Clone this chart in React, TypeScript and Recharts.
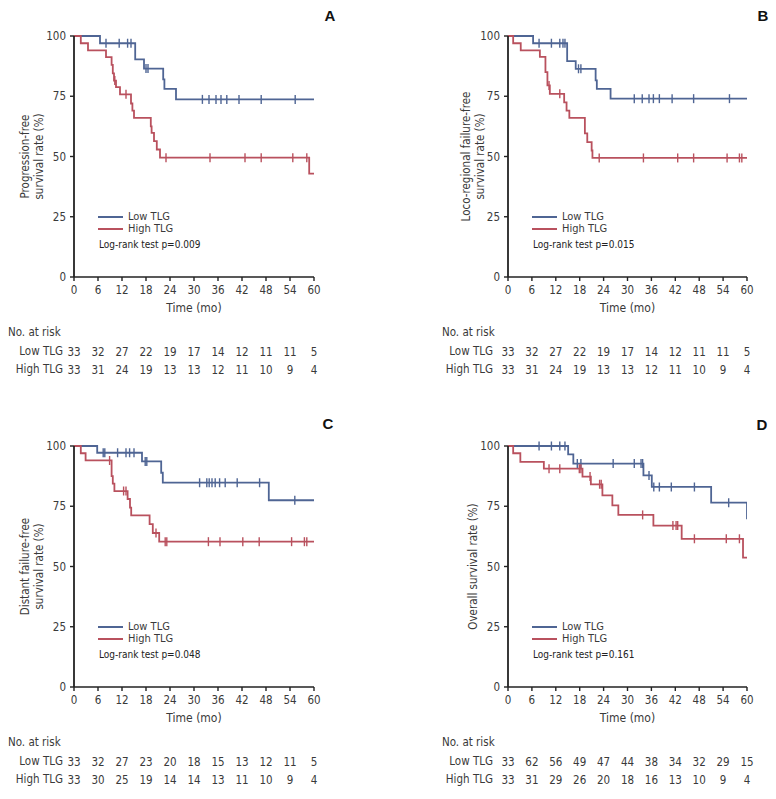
import React from 'react';
import { LineChart, Line, XAxis, YAxis } from 'recharts';

const FONT = "'Liberation Sans Narrow', 'DejaVu Sans Condensed', 'Roboto', sans-serif";
const BLUE = '#4f6594';
const RED = '#b9515e';
const TXT = '#3a3a3a';

const timeTicks = [0, 6, 12, 18, 24, 30, 36, 42, 48, 54, 60];
const survTicks = [0, 25, 50, 75, 100];

// Panel A – progression-free
const aLowSteps = [[0, 100], [6.5, 97], [15.3, 90.3], [17.5, 86.5], [22.3, 82], [22.6, 78.1], [25.5, 73.7]];
const aLowCensor = [8, 11.3, 13.4, 14.25, 18, 18.5, 32.1, 33.75, 35.5, 36.75, 38.2, 41.25, 46.8, 55.3];
const aHighSteps = [[0, 100], [1.7, 97], [3.5, 94], [8, 91.2], [9.4, 88], [9.7, 84.5], [10, 81.5], [10.5, 78.8], [11.5, 75.8], [14.25, 72], [14.6, 69], [15, 66], [19.2, 62.5], [19.4, 59.8], [20, 56.4], [20.7, 52.9], [21.5, 49.5], [58.8, 42.9]];
const aHighCensor = [10.2, 13, 23, 34, 42.75, 46.8, 54.7, 58.2];
const aLowRisk = [33, 32, 27, 22, 19, 17, 14, 12, 11, 11, 5];
const aHighRisk = [33, 31, 24, 19, 13, 13, 12, 11, 10, 9, 4];

// Panel B – loco-regional failure-free
const bLowSteps = [[0, 100], [6.3, 97], [14.85, 89.6], [17, 86.4], [22, 81.6], [22.3, 78.1], [25.75, 74]];
const bLowCensor = [7.8, 10.9, 13, 13.8, 14.3, 17.7, 18.3, 31.7, 33.7, 35.4, 36.5, 38, 41.2, 46.6, 55.6];
const bHighSteps = [[0, 100], [1.3, 97], [3.2, 94], [8, 91.3], [9.4, 85], [9.9, 79.5], [10.5, 76], [14.1, 72.5], [14.7, 69], [15.4, 66], [19.3, 59.6], [19.9, 56], [21, 52.5], [21.2, 49.4]];
const bHighCensor = [10.3, 13, 22.9, 34, 42.6, 46.6, 55, 58.1, 58.7];
const bLowRisk = [33, 32, 27, 22, 19, 17, 14, 12, 11, 11, 5];
const bHighRisk = [33, 31, 24, 19, 13, 13, 12, 11, 10, 9, 4];

// Panel C – distant failure-free
const cLowSteps = [[0, 100], [5.8, 97.2], [17, 93.6], [21.8, 88.9], [22.2, 84.8], [48.7, 77.5]];
const cLowCensor = [7.3, 7.7, 10.9, 13, 13.9, 15, 17.8, 18.2, 31.4, 33.2, 33.8, 34.5, 35.3, 36.4, 37.8, 40.8, 46.4, 55.2];
const cHighSteps = [[0, 100], [1.7, 97], [2.9, 94], [9.4, 87.5], [9.7, 84.4], [10.1, 81.3], [13.4, 78], [14, 74.4], [14.3, 71.2], [18.9, 67.6], [19.7, 63.9], [21.3, 60.3]];
const cHighCensor = [8.9, 12.4, 13, 20.5, 22.8, 23.2, 33.6, 36.5, 42.2, 46.3, 54.4, 57.6, 58.2];
const cLowRisk = [33, 32, 27, 23, 20, 18, 15, 13, 12, 11, 5];
const cHighRisk = [33, 30, 25, 19, 14, 14, 13, 11, 10, 9, 4];

// Panel D – overall survival
const dLowSteps = [[0, 100], [15.1, 96.5], [16.4, 92.7], [34, 87.8], [36.1, 83], [51, 76.5], [60, 69.6]];
const dLowCensor = [7.8, 10.9, 13, 14.3, 17.4, 18.3, 26.4, 31.7, 33.4, 33.8, 35.4, 36.6, 38, 41, 46.8, 55.4];
const dHighSteps = [[0, 100], [1.3, 97], [3.1, 93.4], [9, 90.6], [18.7, 87.3], [20.8, 84.1], [23.7, 79.5], [26.2, 75.4], [27.7, 71.4], [36.5, 67], [43.6, 61.5], [59, 53.7]];
const dHighCensor = [10.3, 13, 17.9, 18.3, 20.6, 23, 23.4, 33.8, 41.4, 42.2, 42.6, 46.8, 54.8, 58.1];
const dLowRisk = [33, 62, 56, 49, 47, 44, 38, 34, 32, 29, 15];
const dHighRisk = [33, 31, 29, 26, 20, 18, 16, 13, 10, 9, 4];

type Pt = { t: number; s: number; c: number };

function buildCurve(steps: number[][], censors: number[], end = 60): Pt[] {
  const levelAt = (t: number) => {
    let s = steps[0][1];
    for (const [st, sv] of steps) if (st <= t) s = sv;
    return s;
  };
  const pts: Pt[] = steps.map(([t, s]) => ({ t, s, c: 0 }));
  censors.forEach((t) => pts.push({ t, s: levelAt(t), c: 1 }));
  pts.sort((a, b) => a.t - b.t);
  const last = pts[pts.length - 1];
  if (last.t < end) pts.push({ t: end, s: last.s, c: 0 });
  return pts;
}

const CHART_W = 388;
const CHART_H = 390;
const PLOT_TOP = 36;
const FS = 11.5;

type PanelProps = {
  left: number;
  top: number;
  letter: string;
  letterX: number;
  letterY: number;
  plotLeft: number;
  plotRight: number;
  yLabel: string[];
  yLabelX: number[];
  lowSteps: number[][];
  lowCensor: number[];
  highSteps: number[][];
  highCensor: number[];
  lowRisk: number[];
  highRisk: number[];
  rowGap: number;
  pText: string;
};

const censorDot = (color: string) => (props: any) => {
  const { cx, cy, payload, index } = props;
  if (!payload || !payload.c || cx == null || cy == null) return <g key={`n${index}`} />;
  return <line key={`c${index}`} x1={cx} x2={cx} y1={cy - 4.5} y2={cy + 4.5} stroke={color} strokeWidth={1.4} />;
};

function Panel(p: PanelProps) {
  const low = buildCurve(p.lowSteps, p.lowCensor);
  const high = buildCurve(p.highSteps, p.highCensor);
  const plotBottom = PLOT_TOP + 241;
  const midY = (PLOT_TOP + plotBottom) / 2;
  const plotMidX = (p.plotLeft + p.plotRight) / 2;
  const txt = { fontFamily: FONT, fill: TXT };

  const timeTick = (props: any) => {
    const { x, y, payload } = props;
    const i = timeTicks.indexOf(payload.value);
    return (
      <g>
        <text x={x} y={y + 9} textAnchor="middle" fontSize={FS} style={txt}>
          {payload.value}
        </text>
        <text x={x} y={y + 71} textAnchor="middle" fontSize={FS} style={txt}>
          {i >= 0 ? p.lowRisk[i] : ''}
        </text>
        <text x={x} y={y + 89} textAnchor="middle" fontSize={FS} style={txt}>
          {i >= 0 ? p.highRisk[i] : ''}
        </text>
      </g>
    );
  };

  return (
    <div style={{ position: 'absolute', left: p.left, top: p.top, width: CHART_W, height: CHART_H }}>
      <LineChart
        width={CHART_W}
        height={CHART_H}
        margin={{ top: PLOT_TOP, right: CHART_W - p.plotRight, left: 0, bottom: 11 }}
      >
        <XAxis
          dataKey="t"
          type="number"
          domain={[0, 60]}
          ticks={timeTicks}
          allowDataOverflow
          height={102}
          tickSize={4}
          tickMargin={4}
          interval={0}
          axisLine={{ stroke: '#222', strokeWidth: 1.6 }}
          tickLine={{ stroke: '#222', strokeWidth: 1.4 }}
          tick={timeTick}
          label={() => (
            <g>
              <text x={plotMidX} y={plotBottom + 35} textAnchor="middle" fontSize={12} style={txt}>
                Time (mo)
              </text>
              <text x={p.plotLeft - 66} y={plotBottom + 59} textAnchor="start" fontSize={FS} style={txt}>
                No. at risk
              </text>
              <text x={p.plotLeft - p.rowGap} y={plotBottom + 78} textAnchor="end" fontSize={FS} style={txt}>
                Low TLG
              </text>
              <text x={p.plotLeft - p.rowGap} y={plotBottom + 96} textAnchor="end" fontSize={FS} style={txt}>
                High TLG
              </text>
            </g>
          )}
        />
        <YAxis
          type="number"
          domain={[0, 100]}
          ticks={survTicks}
          width={p.plotLeft}
          tickSize={4}
          tickMargin={4}
          interval={0}
          axisLine={{ stroke: '#222', strokeWidth: 1.8 }}
          tickLine={{ stroke: '#222', strokeWidth: 1.4 }}
          tick={{ fontSize: FS, fill: TXT, fontFamily: FONT }}
          label={() => (
            <g>
              {p.yLabel.map((line, i) => (
                <text
                  key={i}
                  x={p.yLabelX[i]}
                  y={midY}
                  transform={`rotate(-90 ${p.yLabelX[i]} ${midY})`}
                  textAnchor="middle"
                  dominantBaseline="central"
                  fontSize={11.5}
                  style={txt}
                >
                  {line}
                </text>
              ))}
            </g>
          )}
        />
        <Line
          data={low}
          dataKey="s"
          type="stepAfter"
          stroke={BLUE}
          strokeWidth={1.8}
          dot={censorDot(BLUE)}
          activeDot={false}
          isAnimationActive={false}
        />
        <Line
          data={high}
          dataKey="s"
          type="stepAfter"
          stroke={RED}
          strokeWidth={1.8}
          dot={censorDot(RED)}
          activeDot={false}
          isAnimationActive={false}
        />
      </LineChart>
      {/* legend */}
      <div style={{ position: 'absolute', left: p.plotLeft + 24, top: PLOT_TOP + 180, width: 25, borderTop: `2px solid ${BLUE}` }} />
      <div style={{ position: 'absolute', left: p.plotLeft + 24, top: PLOT_TOP + 192, width: 25, borderTop: `2px solid ${RED}` }} />
      <div style={{ position: 'absolute', left: p.plotLeft + 54, top: PLOT_TOP + 175, fontFamily: FONT, fontSize: 11, color: TXT, lineHeight: '12px', whiteSpace: 'nowrap' }}>
        Low TLG
      </div>
      <div style={{ position: 'absolute', left: p.plotLeft + 54, top: PLOT_TOP + 187, fontFamily: FONT, fontSize: 11, color: TXT, lineHeight: '12px', whiteSpace: 'nowrap' }}>
        High TLG
      </div>
      <div style={{ position: 'absolute', left: p.plotLeft + 25, top: PLOT_TOP + 203, fontFamily: FONT, fontSize: 10, color: '#222', lineHeight: '12px', whiteSpace: 'nowrap' }}>
        {p.pText}
      </div>
      <div
        style={{
          position: 'absolute',
          left: p.letterX - 8,
          top: p.letterY - 10,
          width: 16,
          textAlign: 'center',
          fontFamily: "'Liberation Sans', Arial, sans-serif",
          fontWeight: 'bold',
          fontSize: 15,
          lineHeight: '20px',
          color: '#111',
        }}
      >
        {p.letter}
      </div>
    </div>
  );
}

export default function App() {
  return (
    <div style={{ position: 'absolute', left: 0, top: 0, width: 776, height: 799, background: '#fff' }}>
      <Panel
        left={0}
        top={0}
        letter="A"
        letterX={330}
        letterY={16}
        plotLeft={74}
        plotRight={314}
        yLabel={['Progression-free', 'survival rate (%)']}
        yLabelX={[25, 39]}
        lowSteps={aLowSteps}
        lowCensor={aLowCensor}
        highSteps={aHighSteps}
        highCensor={aHighCensor}
        lowRisk={aLowRisk}
        highRisk={aHighRisk}
        rowGap={11}
        pText="Log-rank test p=0.009"
      />
      <Panel
        left={388}
        top={0}
        letter="B"
        letterX={375}
        letterY={16}
        plotLeft={120}
        plotRight={359}
        yLabel={['Loco-regional failure-free', 'survival rate (%)']}
        yLabelX={[78, 92]}
        lowSteps={bLowSteps}
        lowCensor={bLowCensor}
        highSteps={bHighSteps}
        highCensor={bHighCensor}
        lowRisk={bLowRisk}
        highRisk={bHighRisk}
        rowGap={15}
        pText="Log-rank test p=0.015"
      />
      <Panel
        left={0}
        top={410}
        letter="C"
        letterX={328}
        letterY={14}
        plotLeft={74}
        plotRight={314}
        yLabel={['Distant failure-free', 'survival rate (%)']}
        yLabelX={[25, 39]}
        lowSteps={cLowSteps}
        lowCensor={cLowCensor}
        highSteps={cHighSteps}
        highCensor={cHighCensor}
        lowRisk={cLowRisk}
        highRisk={cHighRisk}
        rowGap={11}
        pText="Log-rank test p=0.048"
      />
      <Panel
        left={388}
        top={410}
        letter="D"
        letterX={374}
        letterY={15}
        plotLeft={120}
        plotRight={359}
        yLabel={['Overall survival rate (%)']}
        yLabelX={[85]}
        lowSteps={dLowSteps}
        lowCensor={dLowCensor}
        highSteps={dHighSteps}
        highCensor={dHighCensor}
        lowRisk={dLowRisk}
        highRisk={dHighRisk}
        rowGap={15}
        pText="Log-rank test p=0.161"
      />
    </div>
  );
}
